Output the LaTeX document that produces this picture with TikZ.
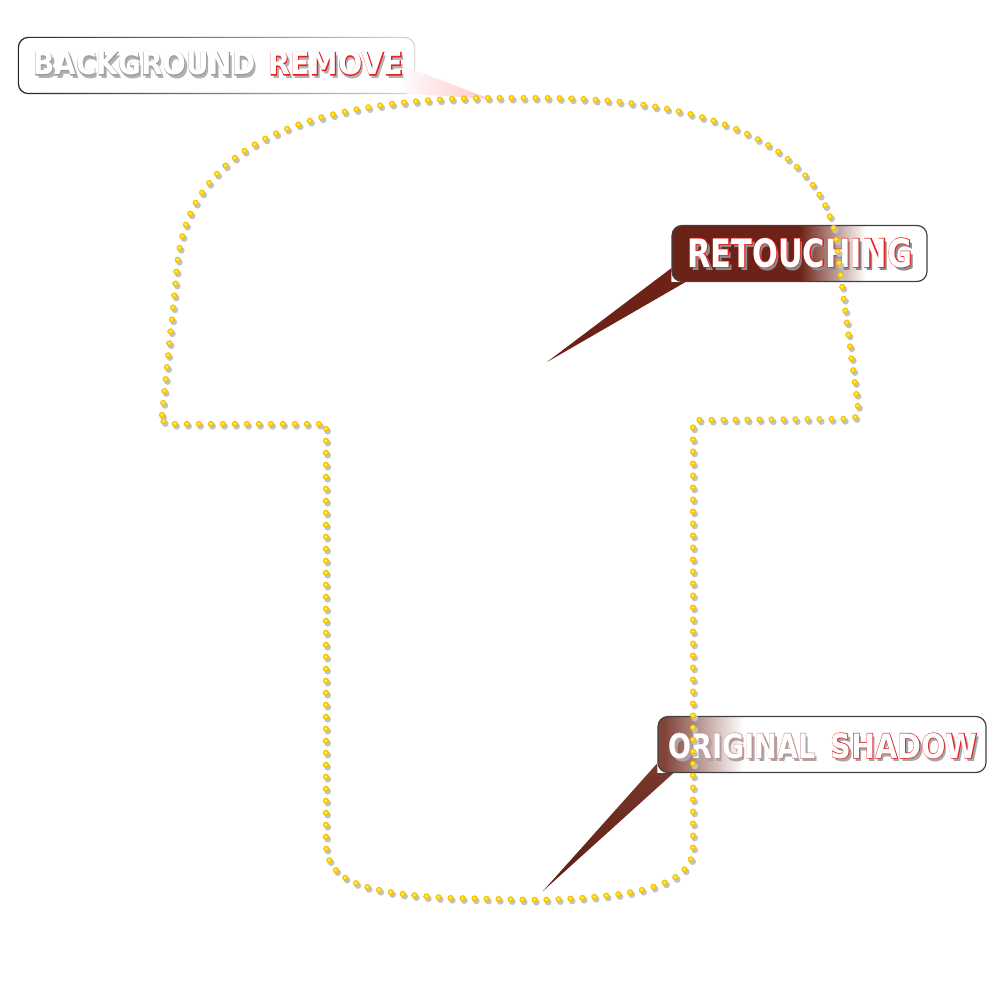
\documentclass[tikz,border=0pt]{standalone}
\usepackage{fontspec}
\usepackage{graphicx}
\usetikzlibrary{decorations.markings,fadings,calc}
\newfontfamily\lblfont{DejaVu Sans}
\newfontfamily\lblfontout[BoldFeatures={FakeBold=3.5}]{DejaVu Sans}
\definecolor{calloutdark}{RGB}{108,34,22}
\definecolor{gold}{RGB}{250,205,0}
\definecolor{golddark}{RGB}{205,150,0}
\definecolor{outlinered}{RGB}{232,30,30}
\newlength\px \setlength\px{0.5pt}
\pgfdeclarehorizontalshading{retfade}{100bp}{color(0bp)=(calloutdark); color(50bp)=(calloutdark); color(63bp)=(white); color(100bp)=(white)}
\pgfdeclarehorizontalshading{origfade}{100bp}{color(0bp)=(calloutdark!85!white); color(26bp)=(calloutdark!85!white); color(38bp)=(white); color(100bp)=(white)}
\pgfdeclareradialshading{goldball}{\pgfpoint{-7bp}{7bp}}{color(0bp)=(white); color(4bp)=(yellow!55!white); color(10bp)=(gold); color(22bp)=(gold); color(25bp)=(golddark); color(50bp)=(golddark)}
\newsavebox\lblbox
\newsavebox\lblboxout
\newcommand\lbltext[5]{%
  \setbox\lblbox\hbox{\resizebox{#1\px}{#2\px}{\lblfont\bfseries #5}}%
  \setbox\lblboxout\hbox{\resizebox{#1\px}{#2\px}{\lblfontout\bfseries #5}}%
  \rlap{\hspace{1.3pt}\raisebox{-1.7pt}{\color{#4}\usebox\lblbox}}%
  \rlap{\color{#3}\usebox\lblboxout}%
  {\color{white}\usebox\lblbox}}
\begin{document}
\begin{tikzpicture}[x=0.5pt,y=-0.5pt,
  calloutbox/.style={rectangle, rounded corners=5pt, inner sep=0pt, line width=0.6pt},
  lbl/.style={inner sep=0pt, anchor=base west},
  dotted outline/.style={decorate, decoration={markings,
     mark=between positions 0 and 1 step 6pt with {%
       \pgftransformresetnontranslations
       \fill[black!24] (0.9pt,-1.2pt) circle (1.65pt);
       \shade[shading=goldball] (0,0) circle (1.55pt);}}}]
\useasboundingbox (0,0) rectangle (1000,1000);
\fill[white] (0,0) rectangle (1000,1000);

% ---------- BACKGROUND REMOVE ----------
\node[calloutbox, fill=white, minimum width=395\px, minimum height=55\px] (bgbox) at (216.5,65.5) {};
\draw[black!15, line width=0.6pt, rounded corners=5pt] (bgbox.north west) rectangle (bgbox.south east);
\draw[black!85, line width=0.6pt, rounded corners=5pt, path fading=east] (bgbox.north west) rectangle (bgbox.south east);
\coordinate (bgtip) at (490,99);
\shade[left color=white, right color=red!22!white] ($(bgbox.east)+(-20,-3)$) -- (bgtip) -- ($(bgbox.south east)+(-8,0)$) -- cycle;
\node[lbl] (bgword) at (33,75) {\lbltext{222}{23}{black!38}{black!30}{BACKGROUND}};
\node[lbl] (rmword) at (268,75) {\lbltext{135}{23}{outlinered}{black!30}{REMOVE}};

% ---------- RETOUCHING ----------
\node[calloutbox, shading=retfade, draw=black!75, minimum width=255\px, minimum height=56\px] (retbox) at (799.5,253.5) {};
\coordinate (rettip) at (547,362);
\fill[calloutdark] ($(retbox.south west)+(0,-14)$) -- (rettip) -- ($(retbox.south west)+(14,0)$) -- (retbox.south west) -- cycle;
\node[lbl] (retword) at (687,267) {\lbltext{225}{29}{outlinered}{black!45}{RETOUCHING}};

% ---------- ORIGINAL SHADOW ----------
\node[calloutbox, shading=origfade, draw=black!75, minimum width=328\px, minimum height=56\px] (origbox) at (822,744.5) {};
\coordinate (origtip) at (543,891);
\shade[top color=calloutdark!90!white, bottom color=calloutdark!85!black] ($(origbox.south west)+(0,-10)$) -- (origtip) -- ($(origbox.south west)+(16,0)$) -- (origbox.south west) -- cycle;
\node[lbl] (origword) at (668,758) {\lbltext{147}{25}{red!55!black!45}{black!35}{ORIGINAL}};
\node[lbl] (shadword) at (830,758) {\lbltext{147}{25}{outlinered}{black!35}{SHADOW}};

% ---------- dotted outline ----------
\path[dotted outline] (162,415) -- (176,280) .. controls (180,170) and (260,100) .. (490,98)
  -- (540,98) .. controls (700,98) and (830,140) .. (838,255)
  -- (858,407) .. controls (858,418) and (855,419) .. (846,419)
  -- (700,420) .. controls (693,420) and (693,422) .. (693,430)
  -- (693,850) .. controls (690,885) and (640,897) .. (540,900)
  -- (450,898) .. controls (360,893) and (328,880) .. (326,845)
  -- (326,424) -- (172,424) .. controls (163,424) and (162,420) .. (162,415);
\end{tikzpicture}
\end{document}
